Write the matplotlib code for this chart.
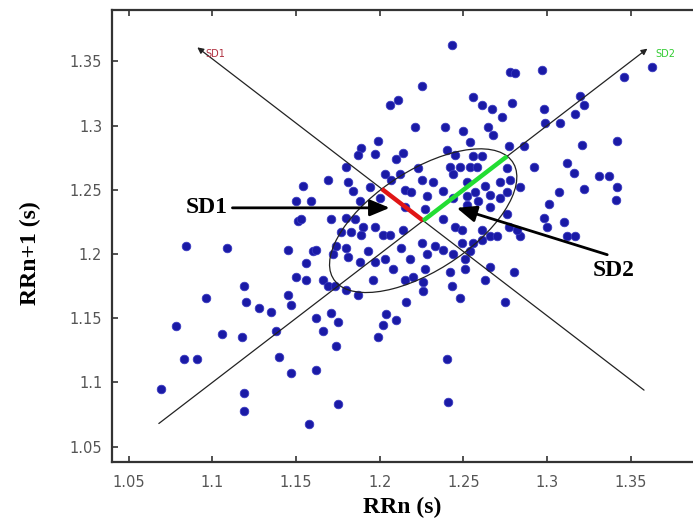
import numpy as np
import matplotlib.pyplot as plt
from matplotlib.patches import Ellipse

# RR intervals
rrn = [1.084, 1.109, 1.145, 1.150, 1.151, 1.150, 1.119, 1.096, 1.120, 1.145,
       1.147, 1.128, 1.135, 1.078, 1.106, 1.118, 1.138, 1.083, 1.091, 1.140,
       1.147, 1.069, 1.119, 1.119, 1.175, 1.158, 1.162, 1.174, 1.171, 1.175,
       1.162, 1.166, 1.156, 1.156, 1.160, 1.172, 1.166, 1.169, 1.180, 1.173,
       1.154, 1.169, 1.180, 1.181, 1.159, 1.153, 1.171, 1.180, 1.162, 1.174,
       1.180, 1.199, 1.189, 1.187, 1.197, 1.210, 1.184, 1.194, 1.203, 1.207,
       1.188, 1.200, 1.185, 1.190, 1.177, 1.183, 1.189, 1.197, 1.202, 1.206,
       1.254, 1.277, 1.240, 1.245, 1.256, 1.261, 1.214, 1.223, 1.242, 1.248,
       1.254, 1.258, 1.276, 1.212, 1.244, 1.225, 1.232, 1.252, 1.215, 1.219,
       1.238, 1.263, 1.272, 1.278, 1.266, 1.228, 1.244, 1.252, 1.257, 1.272,
       1.276, 1.215, 1.227, 1.252, 1.259, 1.266, 1.238, 1.245, 1.249, 1.261,
       1.266, 1.276, 1.277, 1.214, 1.181, 1.193, 1.188, 1.197, 1.203, 1.208,
       1.187, 1.196, 1.204, 1.202, 1.210, 1.225, 1.233, 1.238, 1.213, 1.228,
       1.244, 1.249, 1.256, 1.261, 1.270, 1.254, 1.251, 1.218, 1.227, 1.242,
       1.251, 1.266, 1.215, 1.220, 1.226, 1.226, 1.243, 1.263, 1.280, 1.248,
       1.216, 1.275, 1.199, 1.240, 1.241, 1.243, 1.278, 1.281, 1.297, 1.363,
       1.346, 1.225, 1.206, 1.211, 1.256, 1.261, 1.267, 1.279, 1.273, 1.298,
       1.320, 1.322, 1.317, 1.221, 1.239, 1.250, 1.265, 1.268, 1.299, 1.308,
       1.321, 1.342, 1.292, 1.312, 1.316, 1.331, 1.337, 1.322, 1.342, 1.341,
       1.307, 1.301, 1.298, 1.310, 1.300, 1.312, 1.317, 1.284, 1.282, 1.284,
       1.286]
rrn1 = [1.206, 1.205, 1.203, 1.241, 1.226, 1.182, 1.175, 1.166, 1.163, 1.168,
        1.160, 1.158, 1.155, 1.144, 1.138, 1.135, 1.140, 1.118, 1.118, 1.120,
        1.107, 1.095, 1.092, 1.078, 1.083, 1.068, 1.110, 1.128, 1.154, 1.147,
        1.150, 1.140, 1.180, 1.193, 1.202, 1.200, 1.180, 1.175, 1.172, 1.175,
        1.253, 1.258, 1.268, 1.256, 1.241, 1.227, 1.227, 1.228, 1.203, 1.206,
        1.205, 1.288, 1.283, 1.277, 1.278, 1.274, 1.249, 1.252, 1.262, 1.258,
        1.241, 1.244, 1.227, 1.221, 1.217, 1.217, 1.215, 1.221, 1.215, 1.215,
        1.287, 1.284, 1.281, 1.277, 1.276, 1.276, 1.279, 1.267, 1.268, 1.268,
        1.268, 1.268, 1.267, 1.262, 1.262, 1.258, 1.256, 1.256, 1.250, 1.248,
        1.249, 1.253, 1.256, 1.258, 1.246, 1.245, 1.244, 1.245, 1.248, 1.244,
        1.248, 1.237, 1.235, 1.238, 1.241, 1.237, 1.227, 1.221, 1.219, 1.219,
        1.214, 1.231, 1.221, 1.219, 1.198, 1.202, 1.194, 1.194, 1.196, 1.188,
        1.168, 1.180, 1.153, 1.145, 1.149, 1.209, 1.206, 1.203, 1.205, 1.200,
        1.200, 1.209, 1.209, 1.211, 1.214, 1.202, 1.196, 1.196, 1.188, 1.186,
        1.188, 1.190, 1.180, 1.182, 1.178, 1.171, 1.175, 1.180, 1.186, 1.166,
        1.163, 1.163, 1.135, 1.118, 1.085, 1.363, 1.342, 1.341, 1.343, 1.346,
        1.338, 1.331, 1.316, 1.320, 1.322, 1.316, 1.313, 1.318, 1.307, 1.313,
        1.323, 1.316, 1.309, 1.299, 1.299, 1.296, 1.299, 1.293, 1.302, 1.302,
        1.285, 1.288, 1.268, 1.271, 1.263, 1.261, 1.261, 1.251, 1.252, 1.242,
        1.248, 1.239, 1.228, 1.225, 1.221, 1.214, 1.214, 1.214, 1.219, 1.252,
        1.284]

center = 1.226
sd1 = 0.035
sd2 = 0.071
ident_ends = [1.068, 1.36]
perp_x = [1.358, 1.091]

ticks = [1.05, 1.1, 1.15, 1.2, 1.25, 1.3, 1.35]
tick_labels = ['1.05', '1.1', '1.15', '1.2', '1.25', '1.3', '1.35']

fig = plt.figure(figsize=(6.93, 5.23), dpi=100)
ax = fig.add_axes([0.1616, 0.1166, 0.845, 0.864])

ax.scatter(rrn, rrn1, s=38, color='#1a1aa6', edgecolors='#3a3ac0',
           linewidths=0.6, zorder=2)

# SD2 axis (line of identity) and SD1 axis, arrows at the top
arr = dict(arrowstyle='-|>', color='#222222', lw=0.9, mutation_scale=9,
           shrinkA=0, shrinkB=0)
ax.annotate('', xy=(ident_ends[1], ident_ends[1]),
            xytext=(ident_ends[0], ident_ends[0]), arrowprops=arr, zorder=3)
ax.annotate('', xy=(perp_x[1], 2 * center - perp_x[1]),
            xytext=(perp_x[0], 2 * center - perp_x[0]), arrowprops=arr, zorder=3)
ax.text(1.096, 1.356, 'SD1', color='#b03040', fontsize=7, va='center')
ax.text(1.365, 1.356, 'SD2', color='#33cc33', fontsize=7, va='center')

ell = Ellipse((center, center), width=2 * sd2, height=2 * sd1, angle=45,
              fill=False, edgecolor='#222222', lw=0.9, zorder=3)
ax.add_patch(ell)

d1 = sd1 / np.sqrt(2)
d2 = sd2 / np.sqrt(2)
ax.plot([center, center - d1], [center, center + d1], color='#e01515',
        lw=3.2, solid_capstyle='butt', zorder=4)
ax.plot([center, center + d2], [center, center + d2], color='#22dd33',
        lw=3.2, solid_capstyle='butt', zorder=4)

# big annotation arrows
big = dict(arrowstyle='-|>,head_length=0.6,head_width=0.25', color='black',
           lw=2, mutation_scale=20, shrinkA=0, shrinkB=0)
ax.annotate('', xy=(1.206, 1.236), xytext=(1.112, 1.236), arrowprops=big, zorder=5)
ax.text(1.109, 1.236, 'SD1', fontsize=17, family='Liberation Serif',
        fontweight='bold', ha='right', va='center')
ax.annotate('', xy=(1.246, 1.236), xytext=(1.336, 1.1995), arrowprops=big, zorder=5)
ax.text(1.340, 1.187, 'SD2', fontsize=17, family='Liberation Serif',
        fontweight='bold', ha='center', va='center')

ax.set_xlim(1.04, 1.39)
ax.set_ylim(1.038, 1.39)
ax.set_xticks(ticks)
ax.set_xticklabels(tick_labels)
ax.set_yticks(ticks)
ax.set_yticklabels(tick_labels)
ax.tick_params(direction='in', length=4, width=1.2, top=True, colors='#333333',
               labelcolor='#555555', labelsize=10.5)
ax.tick_params(axis='x', pad=9)
ax.tick_params(axis='y', pad=7)
for sp in ax.spines.values():
    sp.set_linewidth(1.6)
    sp.set_color('#333333')

ax.set_xlabel('RRn (s)', fontsize=17, family='Liberation Serif',
              fontweight='bold')
ax.set_ylabel('RRn+1 (s)', fontsize=17, family='Liberation Serif',
              fontweight='bold')
ax.xaxis.set_label_coords(0.495, -0.078)
ax.yaxis.set_label_coords(-0.121, 0.462)

fig.savefig('out.png', dpi=100)
